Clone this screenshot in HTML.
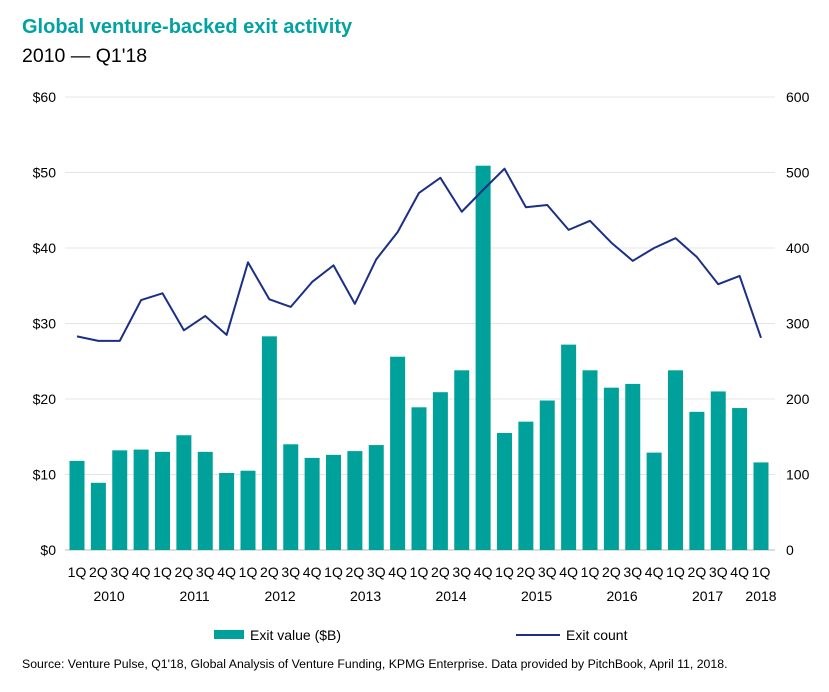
<!DOCTYPE html>
<html><head><meta charset="utf-8"><style>
body{margin:0;background:#fff;font-family:"Liberation Sans",Arial,sans-serif;}
</style></head><body>
<svg width="829" height="687" xmlns="http://www.w3.org/2000/svg" font-family="Liberation Sans, Arial, sans-serif">
<text x="22" y="33" font-size="20" font-weight="bold" fill="#00a3a1">Global venture-backed exit activity</text>
<text x="22" y="62" font-size="19.5" fill="#000">2010 — Q1'18</text>
<g id="grid"></g><g id="bars"></g><g id="line"></g><g id="axes"></g>
<rect x="214" y="630" width="30" height="9" fill="#00a19a"/>
<text x="250" y="640" font-size="14">Exit value ($B)</text>
<line x1="516" y1="635" x2="560" y2="635" stroke="#1b2f85" stroke-width="2"/>
<text x="566" y="640" font-size="14">Exit count</text>
<text x="22" y="668" font-size="12.3">Source: Venture Pulse, Q1'18, Global Analysis of Venture Funding, KPMG Enterprise. Data provided by PitchBook, April 11, 2018.</text>
</svg>
<script>
const quarters=["1Q","2Q","3Q","4Q","1Q","2Q","3Q","4Q","1Q","2Q","3Q","4Q","1Q","2Q","3Q","4Q","1Q","2Q","3Q","4Q","1Q","2Q","3Q","4Q","1Q","2Q","3Q","4Q","1Q","2Q","3Q","4Q","1Q"];
const years=["2010","2011","2012","2013","2014","2015","2016","2017","2018"];
const exitValue=[11.8,8.9,13.2,13.3,13.0,15.2,13.0,10.2,10.5,28.3,14.0,12.2,12.6,13.1,13.9,25.6,18.9,20.9,23.8,50.9,15.5,17.0,19.8,27.2,23.8,21.5,22.0,12.9,23.8,18.3,21.0,18.8,11.6];
const exitCount=[283,277,277,331,340,291,310,285,381,332,322,355,377,326,385,421,473,493,448,477,505,454,457,424,436,407,383,400,413,388,352,363,281];
const leftTicks=[0,10,20,30,40,50,60];
const rightTicks=[0,100,200,300,400,500,600];
const NS="http://www.w3.org/2000/svg";
const x0=77,step=21.375,yTop=97,yBot=550;
const xs=i=>x0+i*step;
const yL=v=>yBot-(v/60)*(yBot-yTop);
const yR=v=>yBot-(v/600)*(yBot-yTop);
function mk(t,a,p){const e=document.createElementNS(NS,t);for(const k in a)e.setAttribute(k,a[k]);p.appendChild(e);return e;}
const grid=document.getElementById('grid'),bars=document.getElementById('bars'),line=document.getElementById('line'),axes=document.getElementById('axes');
leftTicks.forEach((v,i)=>{
 const g=mk('line',{x1:65,x2:775,y1:yL(v),y2:yL(v),stroke:v===0?'#bbb':'#e4e4e4','stroke-width':1},grid);
 
 
 const t=mk('text',{x:56,y:yL(v)+5,'font-size':14,'text-anchor':'end'},axes);t.textContent='$'+v;
 
 
});
rightTicks.forEach(v=>{
 const t=mk('text',{x:786,y:yR(v)+5,'font-size':14},axes);t.textContent=v;
 
 
});
exitValue.forEach((v,i)=>{
 const r=mk('rect',{x:xs(i)-7.5,y:yL(v),width:15,height:yBot-yL(v),fill:'#00a19a'},bars);
 
 
});
const pl=mk('polyline',{points:exitCount.map((v,i)=>xs(i)+','+yR(v)).join(' '),fill:'none',stroke:'#1b2f85','stroke-width':2,'stroke-linejoin':'round'},line);


quarters.forEach((q,i)=>{
 const t=mk('text',{x:xs(i),y:577,'font-size':14,'text-anchor':'middle'},axes);t.textContent=q;
 
 
});
years.forEach((y,i)=>{
 const cx=i<8?xs(i*4+1.5):xs(32);
 const t=mk('text',{x:cx,y:601,'font-size':14,'text-anchor':'middle'},axes);t.textContent=y;
 
 
});
</script>
</body></html>
